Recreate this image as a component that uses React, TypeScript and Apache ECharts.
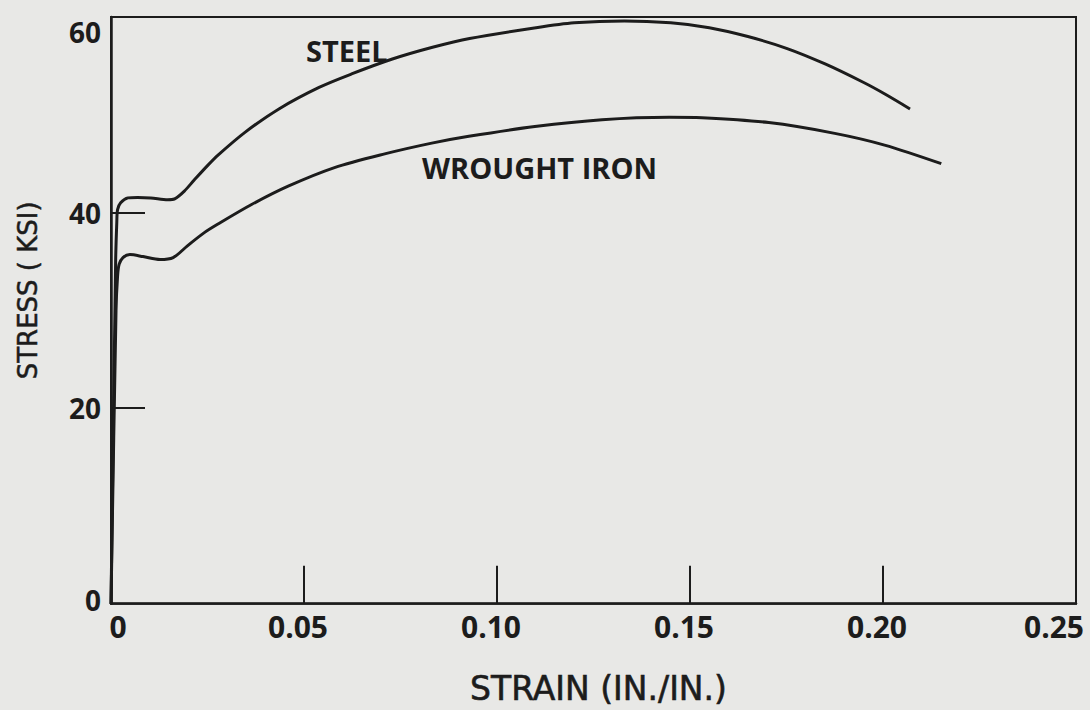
import React, { useEffect, useRef } from "react";
import * as echarts from "echarts";

// Strain (in./in.) , stress (ksi)
const steelStrain = [0, 0.0012, 0.0015, 0.0017, 0.0025, 0.0044, 0.0069, 0.0103, 0.0147, 0.0165, 0.019, 0.0215, 0.025, 0.0278, 0.0347, 0.0435, 0.0539, 0.0625, 0.0729, 0.0833, 0.0929, 0.1101, 0.12, 0.133, 0.145, 0.155, 0.165, 0.175, 0.185, 0.195, 0.2006, 0.207];
const steelStress = [0, 35, 39.0, 40.3, 41.0, 41.5, 41.55, 41.5, 41.3, 41.4, 42.2, 43.3, 44.8, 45.9, 48.2, 50.6, 52.8, 54.2, 55.7, 56.9, 57.8, 58.9, 59.4, 59.6, 59.4, 58.9, 58.0, 56.8, 55.2, 53.3, 52.1, 50.6];

const ironStrain = [0, 0.0013, 0.0017, 0.0021, 0.0031, 0.0049, 0.0083, 0.0127, 0.0161, 0.0198, 0.024, 0.0276, 0.0363, 0.0459, 0.0579, 0.0709, 0.0831, 0.0927, 0.1098, 0.1272, 0.1446, 0.1531, 0.1704, 0.1875, 0.2004, 0.2151];
const ironStress = [0, 30, 33.5, 34.7, 35.4, 35.7, 35.5, 35.2, 35.4, 36.6, 37.9, 38.8, 40.8, 42.7, 44.6, 46.0, 47.1, 47.8, 48.8, 49.5, 49.75, 49.7, 49.2, 48.1, 46.9, 45.0];

const xTickValues = [0.05, 0.1, 0.15, 0.2];
const yTickValues = [20, 40];
const xTickLabels = ["0", "0.05", "0.10", "0.15", "0.20", "0.25"];
const yTickLabels = ["0", "20", "40", "60"];

const seriesNames = ["STEEL", "WROUGHT IRON"];
const xTitle = "STRAIN (IN./IN.)";
const yTitle = "STRESS ( KSI)";

const ink = "#1c1c1c";

export default function App() {
  const ref = useRef<HTMLDivElement>(null);
  useEffect(() => {
    if (!ref.current) return;
    const chart = echarts.init(ref.current, undefined, { renderer: "svg" });
    const steel = steelStrain.map((x, i) => [x, steelStress[i]]);
    const iron = ironStrain.map((x, i) => [x, ironStress[i]]);
    const lbl = { fontFamily: "Open Sans", fontWeight: 700, color: ink };
    chart.setOption({
      animation: false,
      backgroundColor: "#e8e8e6",
      grid: {
        left: 111,
        right: 14,
        top: 17,
        bottom: 106,
        show: true,
        borderColor: ink,
        borderWidth: 2,
        backgroundColor: "transparent",
      },
      xAxis: {
        type: "value",
        min: 0,
        max: 0.25,
        interval: 0.05,
        splitLine: { show: false },
        axisLine: { show: true, lineStyle: { color: ink, width: 2.5 } },
        axisTick: {
          show: true,
          inside: true,
          length: 38,
          customValues: xTickValues,
          lineStyle: { color: ink, width: 2 },
        },
        axisLabel: {
          margin: 8,
          formatter: (v: number) => {
            const i = Math.round(v / 0.05);
            const t = xTickLabels[i] ?? "";
            if (i === 0) return "{z|" + t + "}";
            if (i === 5) return "{e|" + t + "}";
            return "{n|" + t + "}";
          },
          rich: {
            z: { ...lbl, fontSize: 30, padding: [0, 0, 0, 14] },
            n: { ...lbl, fontSize: 30, padding: [0, 12, 0, 0] },
            e: { ...lbl, fontSize: 30, padding: [0, 44, 0, 0] },
          },
        },
        name: xTitle,
        nameLocation: "middle",
        nameGap: 68,
        nameTextStyle: {
          fontFamily: "DejaVu Sans",
          fontSize: 33,
          color: ink,
          textBorderColor: ink,
          textBorderWidth: 0.6,
          padding: [0, 0, 0, 10],
        },
      },
      yAxis: {
        type: "value",
        min: 0,
        max: 60,
        interval: 20,
        splitLine: { show: false },
        axisLine: { show: true, lineStyle: { color: ink, width: 2.5 } },
        axisTick: {
          show: true,
          inside: true,
          length: 34,
          customValues: yTickValues,
          lineStyle: { color: ink, width: 2 },
        },
        axisLabel: {
          margin: 10,
          formatter: (v: number) => {
            const i = Math.round(v / 20);
            const t = yTickLabels[i] ?? "";
            if (i === 3) return "{t|" + t + "}";
            if (i === 0) return "{b|" + t + "}";
            return "{n|" + t + "}";
          },
          rich: {
            n: { ...lbl, fontSize: 28 },
            t: { ...lbl, fontSize: 28, padding: [30, 0, 0, 0] },
            b: { ...lbl, fontSize: 28, padding: [0, 0, 8, 0] },
          },
        },
        name: yTitle,
        nameLocation: "middle",
        nameRotate: 90,
        nameGap: 70,
        nameTextStyle: {
          fontFamily: "DejaVu Sans",
          fontSize: 26,
          color: ink,
          textBorderColor: ink,
          textBorderWidth: 0.5,
          padding: [0, 0, 0, 40],
        },
      },
      series: [
        {
          name: seriesNames[0],
          type: "line",
          data: steel,
          showSymbol: false,
          smooth: 0.3,
          lineStyle: { color: ink, width: 3 },
        },
        {
          name: seriesNames[1],
          type: "line",
          data: iron,
          showSymbol: false,
          smooth: 0.3,
          lineStyle: { color: ink, width: 3 },
        },
      ],
      graphic: [
        {
          type: "text",
          x: 306,
          y: 50,
          style: { text: seriesNames[0], fontFamily: "Open Sans", fontWeight: 700, fontSize: 29, fill: ink, align: "left", verticalAlign: "middle" },
        },
        {
          type: "text",
          x: 422,
          y: 167,
          style: { text: seriesNames[1], fontFamily: "Open Sans", fontWeight: 700, fontSize: 29, fill: ink, align: "left", verticalAlign: "middle" },
        },
      ],
    });
    return () => chart.dispose();
  }, []);
  return <div ref={ref} style={{ width: 1090, height: 710, position: "absolute", left: 0, top: 0 }} />;
}
